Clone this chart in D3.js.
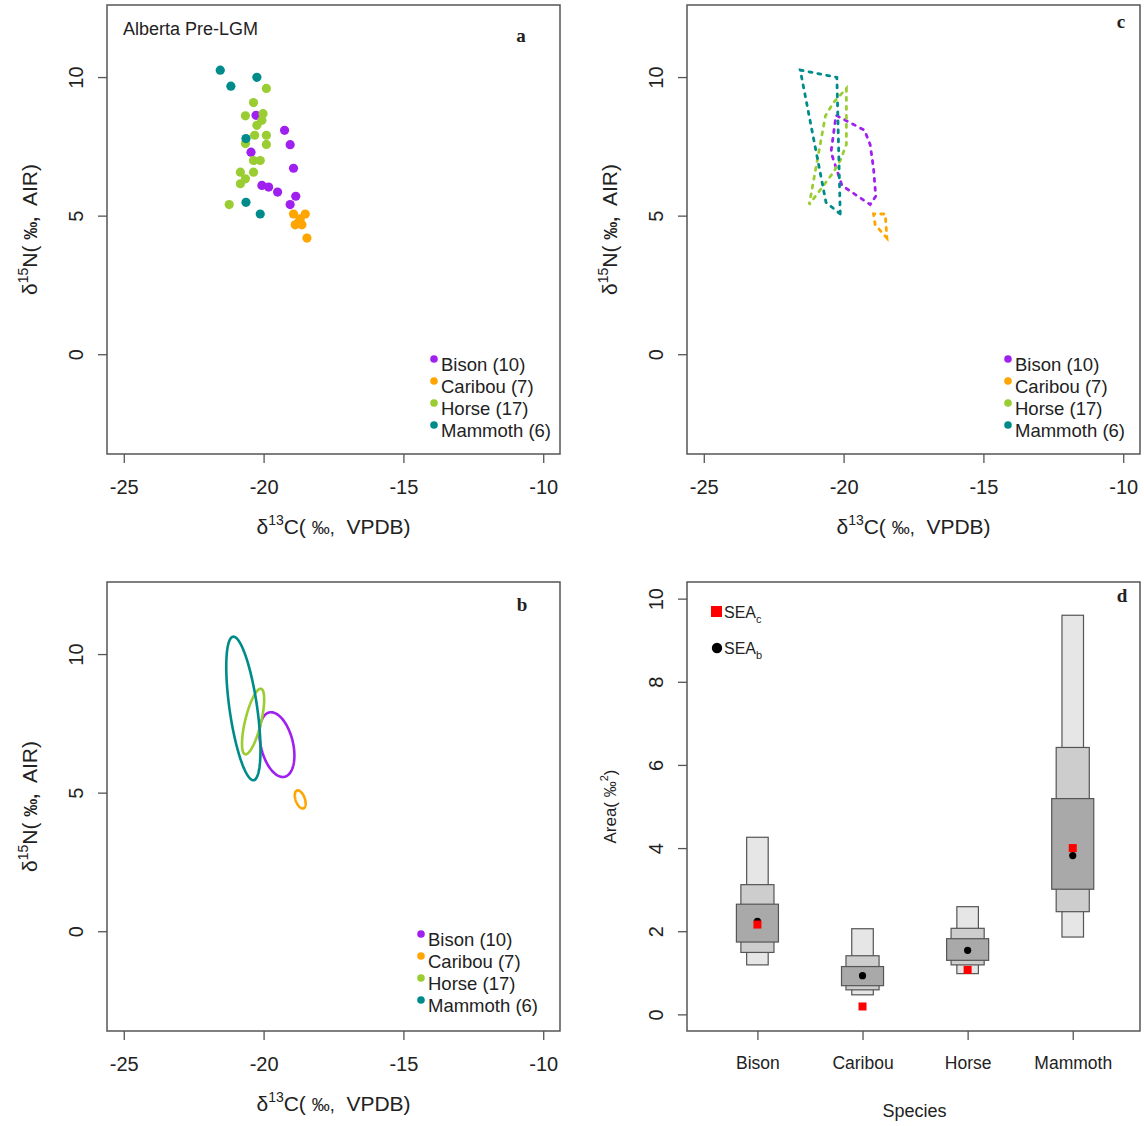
<!DOCTYPE html>
<html>
<head>
<meta charset="utf-8">
<script src="https://cdn.jsdelivr.net/npm/d3@7"></script>
<style>
body { margin: 0; background: #fff; }
text { font-family: "Liberation Sans", Arial, sans-serif; fill: #222; }
</style>
</head>
<body>
<svg id="fig" width="1144" height="1126"></svg>
<script>
// ---- data ----
var species = ["Bison", "Caribou", "Horse", "Mammoth"];
var sampleSize = [10, 7, 17, 6];

var bisonC = [-20.27, -19.25, -19.05, -20.45, -18.93, -20.06, -19.82, -19.50, -18.85, -19.05];
var bisonN = [8.62, 8.08, 7.56, 7.29, 6.71, 6.09, 6.03, 5.85, 5.70, 5.40];
var caribouC = [-18.93, -18.51, -18.69, -18.87, -18.63, -18.75, -18.45];
var caribouN = [5.06, 5.06, 4.88, 4.67, 4.67, 4.76, 4.19];
var horseC = [-19.90, -20.36, -20.65, -20.02, -20.06, -20.24, -19.90, -19.90, -20.32,
              -20.65, -20.36, -20.12, -20.36, -20.83, -20.65, -20.83, -21.23];
var horseN = [9.59, 9.08, 8.60, 8.68, 8.44, 8.26, 7.90, 7.57, 7.90,
              7.60, 6.99, 6.99, 6.57, 6.57, 6.33, 6.15, 5.40];
var mammothC = [-21.55, -21.17, -20.24, -20.63, -20.63, -20.12];
var mammothN = [10.25, 9.67, 9.99, 7.78, 5.48, 5.06];

// posterior SEA summaries (panel d)
var seaB = [2.24, 0.93, 1.54, 3.82];
var seaC = [2.16, 0.19, 1.07, 4.00];
var ci95Low = [1.19, 0.47, 0.98, 1.86];
var ci95High = [4.26, 2.06, 2.59, 9.60];
var ci75Low = [1.49, 0.59, 1.19, 2.47];
var ci75High = [3.12, 1.41, 2.07, 6.42];
var ci50Low = [1.74, 0.69, 1.30, 3.01];
var ci50High = [2.65, 1.15, 1.82, 5.19];

var isoXTicks = [-25, -20, -15, -10];
var isoYTicks = [0, 5, 10];
var areaTicks = [0, 2, 4, 6, 8, 10];

// ---- styles ----
var colors = ["#a020f0", "#ffa500", "#9acd32", "#008b8b"];
var frameCol = "#555";
var W = 453, H = 449;

var groups = [
  {c: bisonC, n: bisonN},
  {c: caribouC, n: caribouN},
  {c: horseC, n: horseN},
  {c: mammothC, n: mammothN}
];
groups.forEach(function(g, i) {
  g.name = species[i];
  g.color = colors[i];
  g.pts = g.c.map(function(v, j) { return [v, g.n[j]]; });
});

var svg = d3.select("#fig");

function styleAxis(ax) {
  ax.select(".domain").remove();
  ax.selectAll(".tick line").attr("stroke", frameCol).attr("stroke-width", 1.3);
  ax.selectAll(".tick text").style("font-size", "20px").attr("fill", "#222");
}

function rotateYLabels(ax) {
  ax.selectAll(".tick text")
    .attr("transform", "rotate(-90)")
    .attr("x", 0)
    .attr("y", -24)
    .attr("dy", null)
    .attr("text-anchor", "middle");
}

function isoPanel(left, top) {
  var g = svg.append("g").attr("transform", "translate(" + left + "," + top + ")");
  var x = d3.scaleLinear().domain([-25.6, -9.4]).range([0, W]);
  var y = d3.scaleLinear().domain([-3.6, 12.6]).range([H, 0]);

  var ax = g.append("g").attr("transform", "translate(0," + H + ")")
    .call(d3.axisBottom(x).tickValues(isoXTicks).tickSize(9).tickPadding(17).tickFormat(String));
  styleAxis(ax);
  var ay = g.append("g").call(d3.axisLeft(y).tickValues(isoYTicks).tickSize(9).tickFormat(String));
  styleAxis(ay);
  rotateYLabels(ay);

  g.append("rect").attr("width", W).attr("height", H)
    .attr("fill", "none").attr("stroke", frameCol).attr("stroke-width", 1.5);

  // x title: δ13C( ‰,  VPDB)
  var xt = g.append("text").attr("x", W / 2).attr("y", H + 80)
    .attr("text-anchor", "middle").style("font-size", "21px");
  xt.append("tspan").text("δ");
  xt.append("tspan").attr("dy", -9).style("font-size", "14px").text("13");
  xt.append("tspan").attr("dy", 9).text("C( ");
  xt.append("tspan").style("font-size", "18px").text("‰,");
  xt.append("tspan").text("\u00a0 VPDB)");

  // y title: δ15N( ‰,  AIR)
  var yt = g.append("text").attr("transform", "translate(-70," + (H / 2) + ") rotate(-90)")
    .attr("text-anchor", "middle").style("font-size", "21px");
  yt.append("tspan").text("δ");
  yt.append("tspan").attr("dy", -9).style("font-size", "14px").text("15");
  yt.append("tspan").attr("dy", 9).text("N( ");
  yt.append("tspan").style("font-size", "18px").style("font-weight", "bold").text("‰,");
  yt.append("tspan").text("\u00a0 AIR)");

  return {g: g, x: x, y: y};
}

function legend(p, lx, ly) {
  var lg = p.g.append("g").attr("transform", "translate(" + lx + "," + ly + ")");
  groups.forEach(function(d, i) {
    lg.append("circle").attr("cx", 0).attr("cy", i * 22 - 5).attr("r", 3.8).attr("fill", d.color);
    lg.append("text").attr("x", 7).attr("y", i * 22 + 7)
      .style("font-size", "18.5px")
      .text(d.name + " (" + sampleSize[i] + ")");
  });
}

function panelLetter(p, x, y, s) {
  p.g.append("text").attr("x", x).attr("y", y).attr("text-anchor", "middle")
    .style("font-family", '"Liberation Serif", "Times New Roman", serif')
    .style("font-weight", "bold").style("font-size", "19px").text(s);
}

// ---- panel a: raw data ----
var pa = isoPanel(107, 5);
groups.forEach(function(d) {
  pa.g.append("g").selectAll("circle").data(d.pts).enter().append("circle")
    .attr("cx", function(v) { return pa.x(v[0]); })
    .attr("cy", function(v) { return pa.y(v[1]); })
    .attr("r", 4.6)
    .attr("fill", d.color);
});
legend(pa, 327, 359);
panelLetter(pa, 414, 37, "a");
pa.g.append("text").attr("x", 16).attr("y", 30).style("font-size", "18px").text("Alberta Pre-LGM");

// ---- panel c: convex hulls ----
var pc = isoPanel(687, 5);
groups.forEach(function(d) {
  var hull = d3.polygonHull(d.pts);
  pc.g.append("path")
    .attr("d", d3.line().x(function(v) { return pc.x(v[0]); }).y(function(v) { return pc.y(v[1]); })
      .curve(d3.curveLinearClosed)(hull))
    .attr("fill", "none")
    .attr("stroke", d.color)
    .attr("stroke-width", 2.8)
    .attr("stroke-linecap", "round")
    .attr("stroke-dasharray", "3,6");
});
legend(pc, 321, 359);
panelLetter(pc, 434, 23, "c");

// ---- panel b: small-sample corrected standard ellipses ----
function ellipsePoints(d) {
  var n = d.pts.length;
  var mx = d3.mean(d.c), my = d3.mean(d.n);
  var sxx = 0, syy = 0, sxy = 0;
  d.pts.forEach(function(v) {
    sxx += (v[0] - mx) * (v[0] - mx);
    syy += (v[1] - my) * (v[1] - my);
    sxy += (v[0] - mx) * (v[1] - my);
  });
  sxx /= (n - 1); syy /= (n - 1); sxy /= (n - 1);
  var k = (n - 1) / (n - 2);
  var tr = (sxx + syy) / 2, disc = Math.sqrt((sxx - syy) * (sxx - syy) / 4 + sxy * sxy);
  var l1 = tr + disc, l2 = tr - disc;
  var v1 = Math.abs(sxy) > 1e-12 ? [sxy, l1 - sxx] : [1, 0];
  var len = Math.hypot(v1[0], v1[1]);
  v1 = [v1[0] / len, v1[1] / len];
  var v2 = [-v1[1], v1[0]];
  var a = Math.sqrt(l1 * k), b = Math.sqrt(Math.max(l2, 0) * k);
  return d3.range(0, 101).map(function(i) {
    var t = i / 100 * 2 * Math.PI;
    return [mx + a * Math.cos(t) * v1[0] + b * Math.sin(t) * v2[0],
            my + a * Math.cos(t) * v1[1] + b * Math.sin(t) * v2[1]];
  });
}

var pb = isoPanel(107, 582);
groups.forEach(function(d) {
  pb.g.append("path")
    .attr("d", d3.line().x(function(v) { return pb.x(v[0]); }).y(function(v) { return pb.y(v[1]); })
      .curve(d3.curveLinearClosed)(ellipsePoints(d)))
    .attr("fill", "none")
    .attr("stroke", d.color)
    .attr("stroke-width", 2.6);
});
legend(pb, 314, 357);
panelLetter(pb, 415, 29, "b");

// ---- panel d: SEA density boxes ----
var gd = svg.append("g").attr("transform", "translate(687,582)");
var xd = d3.scaleLinear().domain([0.33, 4.64]).range([0, W]);
var yd = d3.scaleLinear().domain([-0.4, 10.4]).range([H, 0]);

var axd = gd.append("g").attr("transform", "translate(0," + H + ")")
  .call(d3.axisBottom(xd).tickValues([1, 2, 3, 4]).tickSize(9).tickPadding(17)
    .tickFormat(function(v) { return species[v - 1]; }));
styleAxis(axd);
axd.selectAll(".tick text").style("font-size", "17.5px").attr("fill", "#333");
var ayd = gd.append("g").call(d3.axisLeft(yd).tickValues(areaTicks).tickSize(9).tickFormat(String));
styleAxis(ayd);
rotateYLabels(ayd);

var boxLevels = [
  {lo: ci95Low, hi: ci95High, w: 0.205, fill: "#e6e6e6"},
  {lo: ci75Low, hi: ci75High, w: 0.315, fill: "#cdcdcd"},
  {lo: ci50Low, hi: ci50High, w: 0.40, fill: "#a9a9a9"}
];
boxLevels.forEach(function(lv) {
  gd.append("g").selectAll("rect").data(species).enter().append("rect")
    .attr("x", function(s, i) { return xd(i + 1 - lv.w / 2); })
    .attr("width", function() { return xd(lv.w) - xd(0); })
    .attr("y", function(s, i) { return yd(lv.hi[i]); })
    .attr("height", function(s, i) { return yd(lv.lo[i]) - yd(lv.hi[i]); })
    .attr("fill", lv.fill)
    .attr("stroke", "#555")
    .attr("stroke-width", 1.2);
});

gd.append("g").selectAll("circle").data(seaB).enter().append("circle")
  .attr("cx", function(v, i) { return xd(i + 1); })
  .attr("cy", function(v) { return yd(v); })
  .attr("r", 3.6)
  .attr("fill", "#000");
gd.append("g").selectAll("rect").data(seaC).enter().append("rect")
  .attr("x", function(v, i) { return xd(i + 1) - 4; })
  .attr("y", function(v) { return yd(v) - 4; })
  .attr("width", 8).attr("height", 8)
  .attr("fill", "#ff0000");

gd.append("rect").attr("width", W).attr("height", H)
  .attr("fill", "none").attr("stroke", frameCol).attr("stroke-width", 1.5);

// legend
gd.append("rect").attr("x", 24).attr("y", 24).attr("width", 11).attr("height", 11).attr("fill", "#ff0000");
var l1 = gd.append("text").attr("x", 37).attr("y", 36).style("font-size", "16px");
l1.append("tspan").text("SEA");
l1.append("tspan").attr("dy", 5).style("font-size", "11px").text("c");
gd.append("circle").attr("cx", 30).attr("cy", 66).attr("r", 5.2).attr("fill", "#000");
var l2 = gd.append("text").attr("x", 37).attr("y", 72).style("font-size", "16px");
l2.append("tspan").text("SEA");
l2.append("tspan").attr("dy", 5).style("font-size", "11px").text("b");

gd.append("text").attr("x", W / 2 + 1).attr("y", H + 86).attr("text-anchor", "middle")
  .style("font-size", "18px").attr("fill", "#333").text("Species");

var at = gd.append("text").attr("transform", "translate(-71," + (H / 2) + ") rotate(-90)")
  .attr("text-anchor", "middle").style("font-size", "17px").attr("fill", "#333");
at.append("tspan").text("Area( ");
at.append("tspan").style("font-size", "16px").text("‰");
at.append("tspan").attr("dy", -8).style("font-size", "11px").text("2");
at.append("tspan").attr("dy", 8).text(")");

panelLetter({g: gd}, 435, 20, "d");
</script>
</body>
</html>
